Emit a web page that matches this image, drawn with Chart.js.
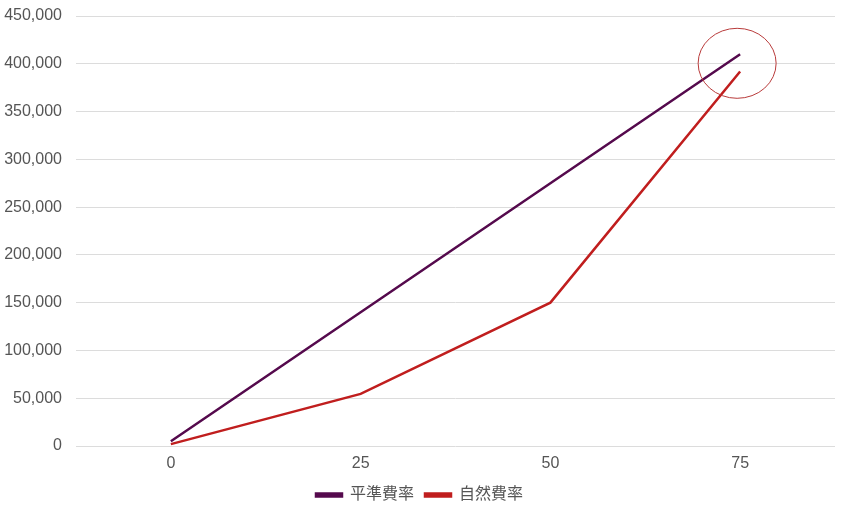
<!DOCTYPE html>
<html>
<head>
<meta charset="utf-8">
<script src="https://cdn.jsdelivr.net/npm/chart.js@4"></script>
<style>
  html, body { margin: 0; padding: 0; background: #fff; }
  #wrap { width: 845px; height: 513px; }
</style>
</head>
<body>
<div id="wrap"><canvas id="chart1"></canvas></div>
<script>
// ages
const labels = ['0', '25', '50', '75'];
// 平準費率
const levelRate = [5000, 140000, 275000, 410000];
// 自然費率
const naturalRate = [2000, 54500, 150000, 392000];
// y ticks
const yMax = 450000;
const yStep = 50000;

// red circle around the last point
const circleMark = {
  id: 'circleMark',
  afterDatasetsDraw(chart) {
    const { ctx, scales } = chart;
    const cx = scales.x.getPixelForValue(3) - 3;
    const cy = scales.y.getPixelForValue(400500);
    ctx.save();
    ctx.strokeStyle = '#b83a3a';
    ctx.lineWidth = 1;
    ctx.beginPath();
    ctx.ellipse(cx, cy, 39, 35, 0, 0, Math.PI * 2);
    ctx.stroke();
    ctx.restore();
  },
};

Chart.defaults.font.family = 'Arial, "Liberation Sans", "Noto Sans CJK JP", sans-serif';

var ctx = document.getElementById('chart1').getContext('2d');
var chart = new Chart(ctx, {
  type: 'line',
  data: {
    labels: labels,
    datasets: [
      {
        label: '平準費率',
        data: levelRate,
        borderColor: '#550a4d',
        backgroundColor: '#550a4d',
        borderWidth: 2.5,
        pointRadius: 0,
        fill: false,
      },
      {
        label: '自然費率',
        data: naturalRate,
        borderColor: '#c01e1e',
        backgroundColor: '#c01e1e',
        borderWidth: 2.5,
        pointRadius: 0,
        fill: false,
      },
    ],
  },
  options: {
    responsive: true,
    maintainAspectRatio: false,
    animation: false,
    layout: { padding: { left: 4, right: 10, top: 16, bottom: 0 } },
    scales: {
      x: {
        offset: true,
        grid: { display: false, drawTicks: false },
        border: { display: false },
        afterFit: scale => { scale.height = 30; },
        ticks: { color: '#555', font: { size: 16 }, padding: 8 },
      },
      y: {
        min: 0,
        max: yMax,
        grid: { color: '#dcdcdc', drawTicks: false },
        border: { display: false },
        afterFit: scale => {
          scale.width = 72;
          scale.paddingTop = 0;
          scale.paddingBottom = 0;
        },
        ticks: {
          stepSize: yStep,
          color: '#555',
          font: { size: 16 },
          padding: 14,
          callback: v => v.toLocaleString('en-US'),
        },
      },
    },
    plugins: {
      legend: {
        position: 'bottom',
        labels: {
          color: '#555',
          font: { size: 16 },
          boxWidth: 26,
          boxHeight: 3,
          padding: 11,
        },
      },
      tooltip: { enabled: false },
    },
  },
  plugins: [circleMark],
});
</script>
</body>
</html>
